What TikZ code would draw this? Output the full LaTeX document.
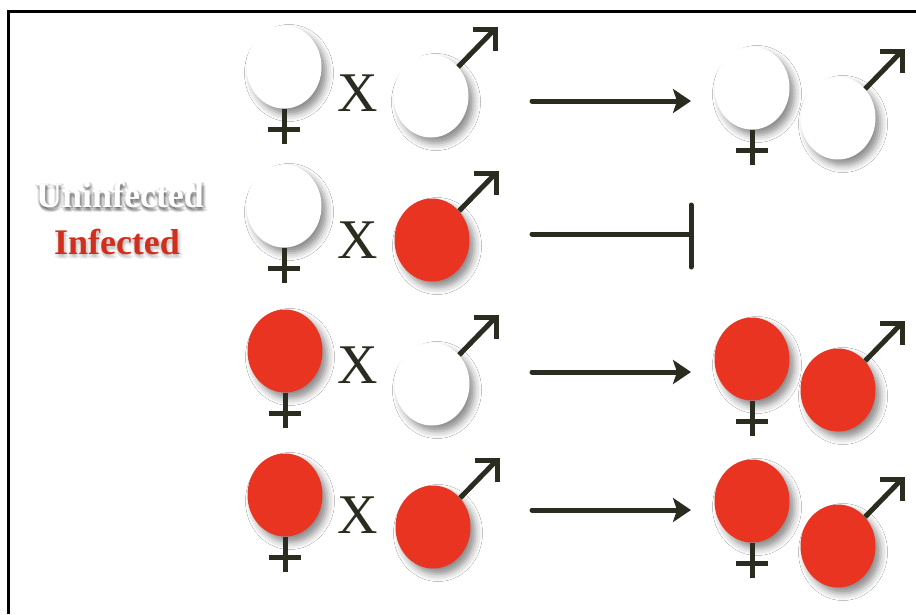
\documentclass[tikz,border=0pt]{standalone}
\usepackage{fontspec}
\setmainfont{Liberation Serif}
\usetikzlibrary{shapes.geometric,arrows.meta,shadows.blur}
\definecolor{ink}{RGB}{42,44,32}
\definecolor{infred}{RGB}{232,52,32}
\tikzset{
  sex/.style={ellipse, inner sep=0pt, minimum width=75pt, minimum height=83pt,
    blur shadow={shadow xshift=5pt, shadow yshift=-6pt, shadow blur radius=7pt, shadow opacity=45}},
  uninf/.style={sex, fill=white},
  inf/.style={sex, fill=infred},
  sym/.style={draw=ink, line width=5pt},
  mainarrow/.style={draw=ink, line width=5pt, line cap=round, -{Stealth[length=18pt,width=24pt,inset=4pt]}},
  crossx/.style={text=ink, inner sep=0pt, font=\fontsize{56}{56}\selectfont},
  legend/.style={inner sep=0pt, font=\bfseries\fontsize{36}{36}\selectfont}
}
\newcommand\femcross[1]{%
  \draw[sym] (#1.south) -- ([yshift=-35pt]#1.south);
  \draw[sym] ([xshift=-16pt,yshift=-21pt]#1.south) -- ([xshift=16pt,yshift=-21pt]#1.south);}
\newcommand\malearrow[1]{%
  \coordinate (#1t) at ([xshift=64pt,yshift=67pt]#1.center);
  \draw[sym] (#1.47) -- (#1t);
  \draw[sym, line join=miter] ([xshift=-22pt]#1t) -- (#1t) -- ([yshift=-22pt]#1t);}
\begin{document}
\begin{tikzpicture}[x=1pt, y=-1pt]
\useasboundingbox (0,0) rectangle (916,614);
\fill[white] (0,0) rectangle (916,614);
\draw[line width=3pt] (8.5,614) -- (8.5,11) -- (916,11);

% legend (soft shadow copies, then the text)
\foreach \dx/\dy in {0/2,2/3,3/1,-1/3,1/5,4/4,-2/1,2/0,0/4} {
  \node[legend, text=black, opacity=0.10] at (120+\dx,195+\dy) {Uninfected};
  \node[legend, text=black, opacity=0.04] at (117+\dx,242+\dy) {Infected};
}
\node[legend, text=white] (lu) at (120,195) {Uninfected};
\node[legend, text=infred!90!black] (li) at (117,242) {Infected};

% row 1
\node[uninf] (f1) at (284,67) {};
\node[crossx] (x1) at (358,93) {X};
\node[uninf] (m1) at (431,96) {};
\femcross{f1}
\malearrow{m1}
\coordinate (a1s) at (532,101);
\coordinate (a1e) at (691,101);
\draw[mainarrow] (a1s) -- (a1e);
\node[uninf] (rf1) at (752,88) {};
\node[uninf] (rm1) at (838,118) {};
\femcross{rf1}
\malearrow{rm1}

% row 2
\node[uninf] (f2) at (284,206) {};
\node[crossx] (x2) at (358,240) {X};
\node[inf] (m2) at (432,240) {};
\femcross{f2}
\malearrow{m2}
\coordinate (a2s) at (532,234);
\coordinate (a2e) at (691,234);
\coordinate (b2t) at (691,205);
\coordinate (b2b) at (691,267);
\draw[sym, line cap=round] (a2s) -- (a2e);
\draw[sym, line cap=round] (b2t) -- (b2b);

% row 3
\node[inf] (f3) at (285,351) {};
\node[crossx] (x3) at (358,365) {X};
\node[uninf] (m3) at (432,384) {};
\femcross{f3}
\malearrow{m3}
\coordinate (a3s) at (532,372);
\coordinate (a3e) at (691,372);
\draw[mainarrow] (a3s) -- (a3e);
\node[inf] (rf3) at (752,359) {};
\node[inf] (rm3) at (838,390) {};
\femcross{rf3}
\malearrow{rm3}

% row 4
\node[inf] (f4) at (285,495) {};
\node[crossx] (x4) at (358,515) {X};
\node[inf] (m4) at (433,527) {};
\femcross{f4}
\malearrow{m4}
\coordinate (a4s) at (532,510);
\coordinate (a4e) at (691,510);
\draw[mainarrow] (a4s) -- (a4e);
\node[inf] (rf4) at (752,501) {};
\node[inf] (rm4) at (838,546) {};
\femcross{rf4}
\malearrow{rm4}
\end{tikzpicture}
\end{document}
